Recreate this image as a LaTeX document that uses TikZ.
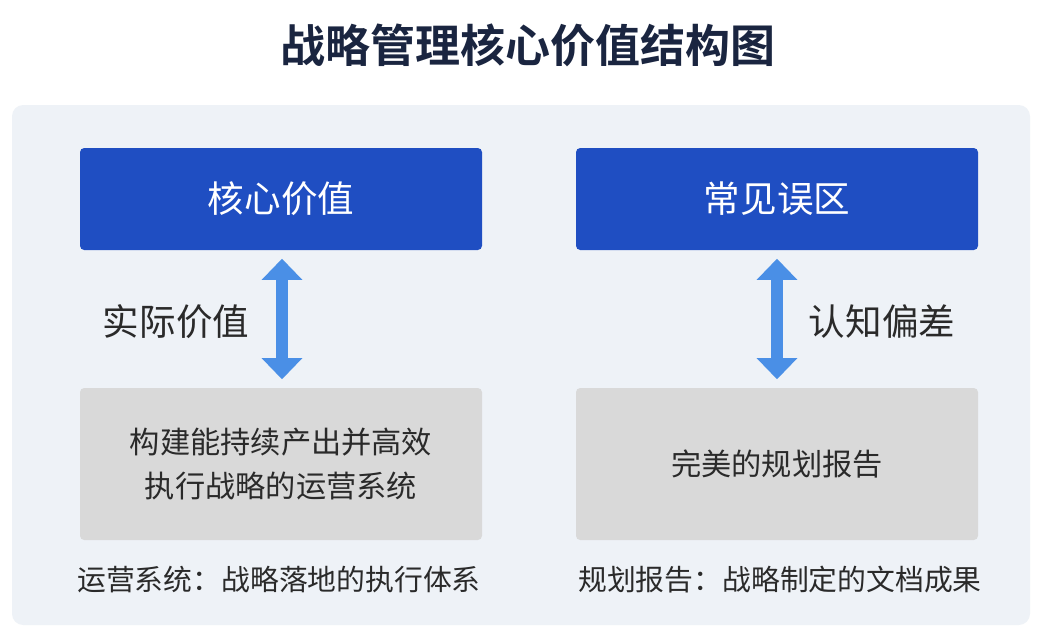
\documentclass[tikz,border=0pt]{standalone}
\usepackage{fontspec}
\setmainfont{Noto Sans CJK SC}
\newfontfamily\cjkbold{Noto Sans CJK SC Bold}
\usetikzlibrary{arrows.meta}
\definecolor{navy}{HTML}{1A2540}
\definecolor{boxblue}{HTML}{1F4EC2}
\definecolor{arrowblue}{HTML}{4A8FE6}
\definecolor{panel}{HTML}{EEF2F7}
\definecolor{boxgray}{HTML}{D9D9D9}
\definecolor{textdark}{HTML}{2A2A2A}
\tikzset{
  headbox/.style={fill=boxblue,rounded corners=3pt,text=white,font=\fontsize{26}{30}\selectfont},
  bodybox/.style={fill=boxgray,rounded corners=3pt,text=textdark,align=center,font=\fontsize{21.5}{31}\selectfont},
  linkarrow/.style={{Triangle[length=15pt,width=28pt]}-{Triangle[length=15pt,width=28pt]},line width=9pt,draw=arrowblue,shorten >=6pt,shorten <=6pt},
  sidelabel/.style={text=textdark,font=\fontsize{26}{30}\selectfont},
  caption/.style={text=textdark,font=\fontsize{20.5}{24}\selectfont}
}
\begin{document}
\begin{tikzpicture}[x=0.025cm,y=-0.025cm]
  \useasboundingbox (0,0) rectangle (1037,639);
  \fill[white] (0,0) rectangle (1037,639);
  \fill[panel,rounded corners=8pt] (12,105) rectangle (1030,625);

  % title
  \node[text=navy,font=\cjkbold\fontsize{32}{36}\selectfont] (title) at (528,45) {战略管理核心价值结构图};

  % left column
  \node[headbox,minimum width=402*0.025cm,minimum height=102*0.025cm] (core) at (281,199) {核心价值};
  \node[bodybox,minimum width=402*0.025cm,minimum height=152*0.025cm] (ops) at (281,464) {构建能持续产出并高效\\执行战略的运营系统};
  \draw[linkarrow] (core.south -| 282,0) -- (ops.north -| 282,0);
  \node[sidelabel] (value) at (176,322) {实际价值};
  \node[caption] (opsnote) at (279,580) {运营系统：战略落地的执行体系};

  % right column
  \node[headbox,minimum width=402*0.025cm,minimum height=102*0.025cm] (myth) at (777,199) {常见误区};
  \node[bodybox,minimum width=402*0.025cm,minimum height=152*0.025cm] (report) at (777,464) {完美的规划报告};
  \draw[linkarrow] (myth.south -| 777,0) -- (report.north -| 777,0);
  \node[sidelabel] (bias) at (882,322) {认知偏差};
  \node[caption] (reportnote) at (780,580) {规划报告：战略制定的文档成果};
\end{tikzpicture}
\end{document}
